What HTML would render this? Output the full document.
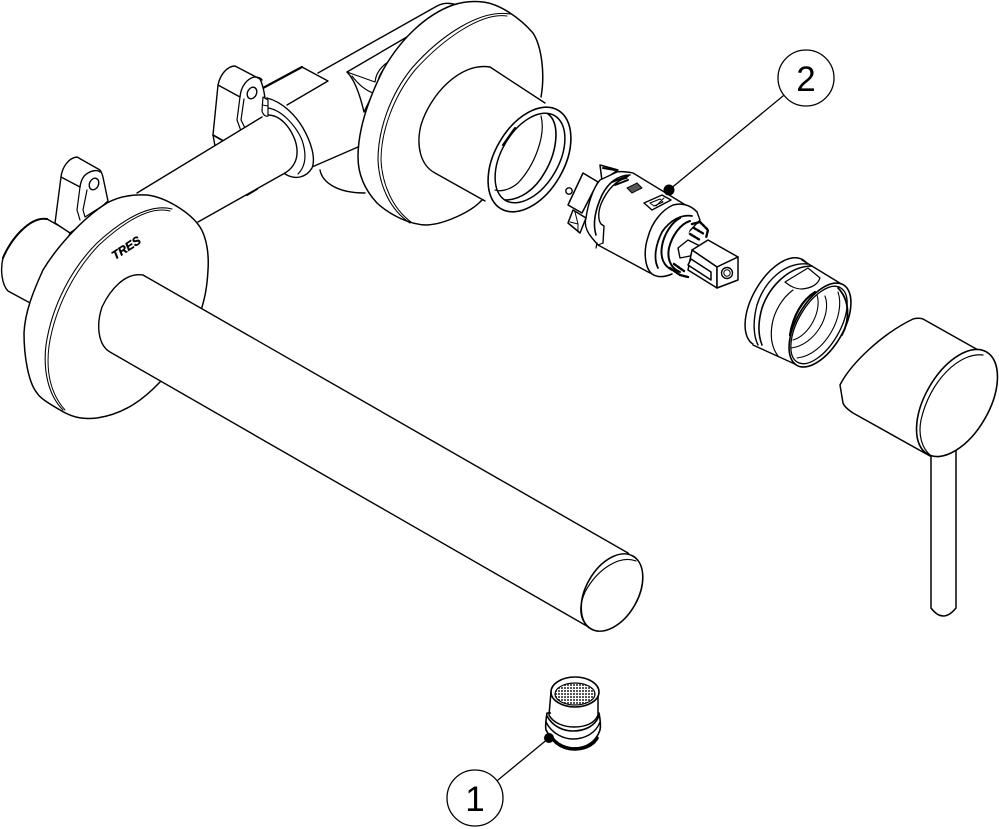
<!DOCTYPE html>
<html><head><meta charset="utf-8"><style>
html,body{margin:0;padding:0;background:#fff}
svg{display:block}
path,ellipse,circle,polygon{stroke-linejoin:round;stroke-linecap:round}
</style></head><body>
<svg xmlns="http://www.w3.org/2000/svg" width="999" height="829" viewBox="0 0 999 829">
<defs>
<pattern id="m" width="3" height="3" patternUnits="userSpaceOnUse"><rect width="3" height="3" fill="#fff"/><rect width="2" height="2" fill="#555"/></pattern>
</defs>
<g fill="#fff" stroke="#000" stroke-width="1.4">
<!-- back structure -->
<path d="M320 170C322 181 335 193 365 193" fill="none"/>
<path d="M312 167L358 147" fill="none"/>
<path d="M287 105L328 81L302 67L263 88" fill="#fff"/>
<path d="M263 88L302 67" fill="none" stroke-width="2.2"/>
<path d="M318 73L437 6C445 2 452 3 460 6" fill="none"/>
<path d="M347 72L412 34" fill="none"/>
<path d="M347 72C355 80 360 95 364 112C368 104 372 96 375 88" fill="none"/>
<path d="M347 72L375 82M352 76C358 84 365 90 373 93" fill="none" stroke-width="1.1"/>
<path d="M375 82C376 72 382 66 388 62M378 84C378 74 384 68 390 64" fill="none" stroke-width="1.2"/>
<path d="M247 195L257 189" fill="none" stroke-width="2"/>
<!-- rear bracket -->
<path d="M215 146L213 135L218 85C220 75 227 66 235 66L260 79C262 83 263 87 264 92L268 116L240 132Z"/>
<path d="M218 85L240 97C241 86 247 79 254 77C258 77 261 78 262 80" fill="none"/>
<path d="M240 97L237 120L241 131M244 99L241 120L245 128L265 117" fill="none" stroke-width="1.2"/>
<ellipse cx="252" cy="93" rx="4.5" ry="6" transform="rotate(25 252 93)"/>
<path d="M213 135L227 143" fill="none" stroke-width="1.8"/>
<!-- collar -->
<path d="M267 98C283 102 296 116 303 128C311 142 316 158 312 168C306 178 295 180 285 174L262 130Z"/>
<path d="M268 108C282 110 296 126 302 140C306 152 307 165 298 174" fill="none" stroke-width="1.2"/>
<!-- pipe -->
<path d="M137 193L268 113C280 114 290 127 295 140C299 152 298 165 285 173L198 222L160 240Z" fill="#fff" stroke="none"/>
<path d="M137 193L262 117M198 222L285 173" fill="none"/>
<path d="M266 115C280 114 290 127 295 140C299 152 298 165 285 173" fill="none"/>
<path d="M263 97L262 111C263 115 266 117 268 116L268 100Z" stroke-width="1.2"/>
<path d="M262 105L268 106" fill="none" stroke-width="1"/>
<!-- rear flange -->
<path d="M358 157C358 130 368 100 383 70C400 40 425 15 453 5C465 1 475 1 483 2C500 4 520 18 533 33C542 47 545 75 541 97C535 135 505 180 480 202C470 212 445 224 427 225C410 225 390 215 377 203C365 190 358 175 358 157Z" stroke-width="1.5"/>
<path d="M510 14C480 9 440 36 412 68C390 95 378 130 378 160C379 185 390 210 410 223" fill="none" stroke-width="1.1"/>
<path d="M507 16C482 12 444 38 415 70C393 97 381 132 381 160C382 183 392 208 411 222" fill="none" stroke-width="1"/>
<path d="M490 67L545 100L575 160L482 200L435 173C420 165 416 145 421 125C430 95 460 62 490 67Z" stroke="none"/>
<path d="M545 103L490 67C460 62 430 95 421 125C416 145 420 165 435 173L485 201" fill="none"/>
<ellipse cx="529.500" cy="159.500" rx="57" ry="34.700" transform="rotate(-60 529.500 159.500)" stroke-width="1.6"/>
<ellipse cx="530" cy="158" rx="49" ry="28.700" transform="rotate(-60 530 158)" stroke-width="1.5"/>
<path d="M541 116C546 135 535 165 518 183C510 190 500 192 495 190" fill="none" stroke-width="1.2"/>
<path d="M548 114C560 122 558 150 545 172C535 190 520 200 505 200" fill="none" stroke-width="1.6"/>
<path d="M503 145L515 128" fill="none" stroke-width="2"/>
<!-- rear stub -->
<path d="M70 232L47 219C30 216 10 240 3 258C0 270 2 285 8 291L32 304L60 280Z"/>
<path d="M47 219C30 216 10 240 3 258" fill="none" stroke-width="2"/>
<!-- front bracket -->
<path d="M55 223L61 177C62 168 68 158 77 157L100 170C103 174 103 178 104 182L108 201L80 226L70 233Z"/>
<path d="M61 177L80 187C81 180 84 175 88 173C93 170 98 170 100 172" fill="none"/>
<path d="M80 187L77 210L80 220M87 190L83 210L85 217L107 203" fill="none" stroke-width="1.2"/>
<ellipse cx="94" cy="184" rx="4.500" ry="6" transform="rotate(25 94 184)"/>
<!-- front flange -->
<path d="M24 333C25 312 33 292 43 270C55 250 80 220 107 203C118 197 130 194 147 195C165 197 190 212 200 227C207 238 209 255 208 270C207 290 204 300 202 307C195 335 175 367 160 382C145 398 125 414 97 418C80 420 70 416 60 410C48 403 40 398 37 393C28 382 24 355 24 333Z" stroke-width="1.5"/>
<path d="M172 209C150 203 122 220 97 243C72 268 52 305 46 345C43 370 48 395 63 410" fill="none" stroke-width="1.1"/>
<path d="M170 211C150 206 124 222 99 245C75 270 55 307 49 346C46 370 50 393 65 410" fill="none" stroke-width="1"/>
<text x="115" y="260" font-family="'Liberation Sans',sans-serif" font-size="12" font-weight="bold" font-style="italic" fill="#000" stroke="#000" stroke-width=".4" textLength="32" lengthAdjust="spacingAndGlyphs" transform="rotate(-33 115 260)">TRES</text>
<!-- spout -->
<path d="M143 275L628 553L640 570L592 629L110 352C98 345 96 325 102 307C110 290 125 272 143 275Z"/>
<ellipse cx="612" cy="592.500" rx="42" ry="26" transform="rotate(-60 612 592.500)" stroke-width="1.6"/>
<path d="M636 561C620 555 598 568 585 592C578 608 580 620 589 628" fill="none" stroke-width="1.2"/>
<!-- cartridge -->
<path d="M583 173L568 205L582 213L598 182Z" stroke-width="1.5"/>
<circle cx="569" cy="191" r="3.200" stroke-width="1.4"/>
<path d="M573 210L568 223L580 233L586 218Z" stroke-width="1.5"/>
<path d="M570 222L578 224M575 212L578 224L578 232" fill="none" stroke-width="1"/>
<path d="M600 165L602 181L618 170L600 165Z" stroke-width="1.5"/>
<path d="M603 168L615 170" fill="none" stroke-width="2"/>
<path d="M600 180L617 172C622 171 628 172 633 173L697 212L700 220L650 273L598 245L592 238C587 232 584 225 586 218C588 204 593 188 600 180Z"/>
<path d="M630 175C618 175 608 183 602 195C596 208 592 222 596 235" fill="none" stroke-width="1.6"/>
<path d="M627 178C616 180 607 190 601 204C598 212 598 220 601 224L604 226L603 243" fill="none" stroke-width="1.4"/>
<path d="M612 182L628 176M615 185L628 180" fill="none" stroke-width="2"/>
<path d="M597 243L596 248M603 243L598 245" fill="none" stroke-width="1.2"/>
<polygon points="627 188 637 183 642 188 632 193" fill="#555" stroke-width="1"/>
<polygon points="644 203 662 195 671 200 652 210" stroke-width="1.4"/>
<path d="M650 203L660 199L663 202L654 206ZM656 206L664 198" fill="none" stroke-width="1"/>
<path d="M697 212C690 204 680 203 673 205C662 210 652 222 648 237C643 252 645 268 652 274C658 278 665 277 672 274" stroke-width="1.5"/>
<path d="M692 216C682 214 670 220 662 232C656 244 653 258 658 268" fill="none" stroke-width="1.8"/>
<path d="M680 218C672 222 664 234 662 246C660 258 664 266 672 270" fill="none" stroke-width="2"/>
<path d="M690 221C680 224 672 236 669 248C667 258 670 268 680 272" fill="none" stroke-width="2"/>
<path d="M692 224L700 222L708 230L706 238M694 228L704 234M690 234L700 240" fill="none" stroke-width="2.400" stroke-dasharray="2.500 1.500"/>
<path d="M670 268L680 275L688 277M674 264L684 271" fill="none" stroke-width="2.400" stroke-dasharray="2.500 1.500"/>
<polygon points="678 248 688 240 700 246 690 256 680 258" stroke-width="1.4"/>
<polygon points="692 250 708 240 738 257 717 267" stroke-width="1.5"/>
<polygon points="692 250 717 267 717 288 688 270" stroke-width="1.5"/>
<polygon points="717 267 738 257 738 280 717 288" stroke-width="1.5"/>
<polygon points="691 259 711 272 711 280 688 265" stroke-width="1.5"/>
<circle cx="727" cy="273" r="5.500" stroke-width="1.4"/>
<circle cx="727" cy="273" r="3.200" stroke-width="1"/>
<!-- retaining nut -->
<ellipse cx="778" cy="302" rx="49" ry="25.400" transform="rotate(-60 778 302)" stroke-width="1.5"/>
<polygon points="802 260 843 285 797 365 753 345" stroke="none"/>
<path d="M802 260L843 285M753 345L797 365" fill="none" stroke-width="1.4"/>
<ellipse cx="820" cy="325" rx="46.500" ry="23.600" transform="rotate(-60 820 325)" stroke-width="1.6"/>
<path d="M808 264C785 262 765 280 757 305C753 320 753 335 758 345" fill="none"/>
<path d="M812 266C790 266 770 285 762 308C758 322 758 335 762 345" fill="none" stroke-width="1.6"/>
<path d="M793 290C782 298 774 312 772 325C770 338 772 348 778 356" fill="none" stroke-width="1.2"/>
<path d="M785 282L808 268L820 278C818 284 812 288 802 289C795 289 790 286 785 282Z" stroke-width="1.2"/>
<ellipse cx="819" cy="325" rx="43" ry="21" transform="rotate(-60 819 325)" stroke-width="1.3"/>
<path d="M815 292C802 300 793 316 790 335" fill="none" stroke-width="2.2"/>
<path d="M817 295C822 310 810 335 793 340M825 296C832 315 815 345 791 348M838 292C846 315 825 355 797 358" fill="none" stroke-width="1.1"/>
<path d="M838 288C850 300 850 320 842 335" fill="none" stroke-width="1.8"/>
<!-- lever -->
<path d="M931 450V608Q943 624 956 608V450Z" stroke-width="1.5"/>
<!-- handle -->
<path d="M840 385C850 365 880 335 913 319C917 318 920 318 923 319L987 355L930 456L853 413C847 409 844 406 843 403Z" stroke-width="1.5"/>
<ellipse cx="957" cy="403" rx="59" ry="32" transform="rotate(-60 957 403)" stroke-width="1.6"/>
<path d="M983 355C960 352 930 380 921 420C918 435 922 448 930 455" fill="none" stroke-width="1.2"/>
<!-- aerator -->
<path d="M547 713C546 720 545 726 546 730C552 742 565 748 574 748C586 748 596 742 600 730C601 725 600 718 599 713Z" stroke-width="1.6"/>
<path d="M552 738C558 746 567 749 574 749C585 749 593 745 597 738" fill="none" stroke="#000" stroke-width="3.500" stroke-dasharray="3 2"/>
<path d="M546 722C552 734 564 739 573 739C585 739 596 733 600 722" fill="none"/>
<path d="M547 716C553 727 564 731 573 731C585 731 595 726 599 716" fill="none" stroke-width="1.6"/>
<path d="M551 692V713C554 722 564 726 574 726C586 726 595 722 598 713V692Z" stroke="none"/>
<path d="M551 692L549 715C553 723 564 727 574 727C586 727 595 723 598 715L598 692" fill="none" stroke-width="1.5"/>
<ellipse cx="575" cy="692" rx="24" ry="15" stroke-width="1.6"/>
<ellipse cx="575" cy="694" rx="20" ry="11" fill="url(#m)" stroke-width="1.2"/>
</g>
<!-- callouts -->
<g stroke="#000" stroke-width="1.3" fill="none">
<path d="M669 190L783 96"/>
<circle cx="806" cy="78" r="28" fill="#fff"/>
<path d="M549 738L498 780"/>
<circle cx="475" cy="798" r="28" fill="#fff"/>
</g>
<circle cx="669" cy="190" r="5.500" fill="#000"/>
<circle cx="549" cy="738" r="5" fill="#000"/>
<text x="806" y="91" text-anchor="middle" font-family="'Liberation Sans',sans-serif" font-size="35" fill="#000">2</text>
<text x="475" y="811" text-anchor="middle" font-family="'Liberation Sans',sans-serif" font-size="35" fill="#000">1</text>
</svg>
</body></html>
